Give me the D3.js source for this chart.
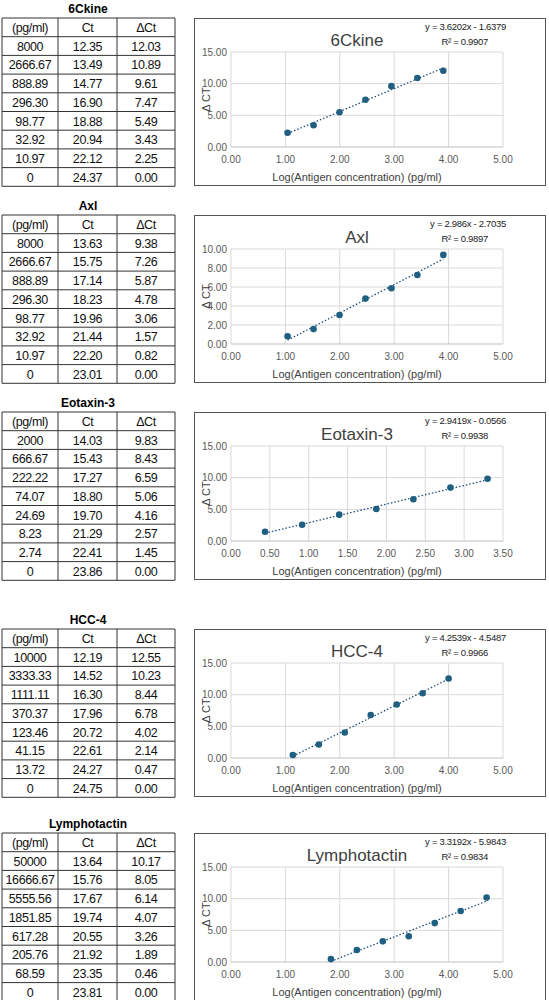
<!DOCTYPE html>
<html><head><meta charset="utf-8">
<script src="https://cdn.jsdelivr.net/npm/d3@7"></script>
<style>body{margin:0;background:#fff;font-family:"Liberation Sans",Arial,sans-serif}</style>
</head><body><svg width="549" height="1000"></svg>
<script>
// data per analyte
const names = ["6Ckine", "Axl", "Eotaxin-3", "HCC-4", "Lymphotactin"];
const conc = [
  ["8000","2666.67","888.89","296.30","98.77","32.92","10.97","0"],
  ["8000","2666.67","888.89","296.30","98.77","32.92","10.97","0"],
  ["2000","666.67","222.22","74.07","24.69","8.23","2.74","0"],
  ["10000","3333.33","1111.11","370.37","123.46","41.15","13.72","0"],
  ["50000","16666.67","5555.56","1851.85","617.28","205.76","68.59","0"]
];
const ct = [
  ["12.35","13.49","14.77","16.90","18.88","20.94","22.12","24.37"],
  ["13.63","15.75","17.14","18.23","19.96","21.44","22.20","23.01"],
  ["14.03","15.43","17.27","18.80","19.70","21.29","22.41","23.86"],
  ["12.19","14.52","16.30","17.96","20.72","22.61","24.27","24.75"],
  ["13.64","15.76","17.67","19.74","20.55","21.92","23.35","23.81"]
];
const dct = [
  ["12.03","10.89","9.61","7.47","5.49","3.43","2.25","0.00"],
  ["9.38","7.26","5.87","4.78","3.06","1.57","0.82","0.00"],
  ["9.83","8.43","6.59","5.06","4.16","2.57","1.45","0.00"],
  ["12.55","10.23","8.44","6.78","4.02","2.14","0.47","0.00"],
  ["10.17","8.05","6.14","4.07","3.26","1.89","0.46","0.00"]
];
const slope = [3.6202, 2.986, 2.9419, 4.2539, 3.3192];
const icpt = [-1.6379, -2.7035, -0.0566, -4.5487, -5.9843];
const eqText = ["y = 3.6202x - 1.6379","y = 2.986x - 2.7035","y = 2.9419x - 0.0566","y = 4.2539x - 4.5487","y = 3.3192x - 5.9843"];
const r2Text = ["R² = 0.9907","R² = 0.9897","R² = 0.9938","R² = 0.9966","R² = 0.9834"];
const xMax = [5, 5, 3.5, 5, 5];
const xStep = [1, 1, 0.5, 1, 1];
const yMax = [15, 10, 15, 15, 15];
const yStep = [5, 2, 5, 5, 5];
const tops = [18, 215, 412, 629, 833];

const svg = d3.select("svg");
const rowH = 18.7, colX = [2, 58, 117, 175];

names.forEach((name, i) => {
  const top = tops[i];
  const g = svg.append("g");
  g.append("text").attr("x", 88).attr("y", top - 5).attr("text-anchor", "middle")
    .attr("font-size", 12).attr("font-weight", "bold").text(name);
  const rows = [["(pg/ml)", "Ct", "ΔCt"]].concat(conc[i].map((c, k) => [c, ct[i][k], dct[i][k]]));
  rows.forEach((r, k) => {
    r.forEach((v, c) => {
      g.append("text").attr("x", (colX[c] + colX[c + 1]) / 2).attr("y", top + k * rowH + 14)
        .attr("text-anchor", "middle").attr("font-size", 12.5).attr("letter-spacing", -0.4)
        .attr("fill", "#111").text(v);
    });
  });
  for (let k = 0; k <= rows.length; k++)
    g.append("line").attr("x1", colX[0]).attr("x2", colX[3]).attr("y1", top + k * rowH).attr("y2", top + k * rowH).attr("stroke", "#333");
  colX.forEach(x => g.append("line").attr("x1", x).attr("x2", x).attr("y1", top).attr("y2", top + rows.length * rowH).attr("stroke", "#333"));

  // chart box
  g.append("rect").attr("x", 194.5).attr("y", top + 0.5).attr("width", 351).attr("height", 167)
    .attr("fill", "#fff").attr("stroke", "#555");
  const x = d3.scaleLinear().domain([0, xMax[i]]).range([231, 503]);
  const y = d3.scaleLinear().domain([0, yMax[i]]).range([top + 129, top + 34]);
  const xt = d3.range(0, xMax[i] + 1e-9, xStep[i]);
  const yt = d3.range(0, yMax[i] + 1e-9, yStep[i]);
  g.selectAll(null).data(xt).join("line").attr("x1", d => x(d)).attr("x2", d => x(d))
    .attr("y1", y(yMax[i])).attr("y2", y(0)).attr("stroke", "#d9d9d9");
  g.selectAll(null).data(yt).join("line").attr("x1", x(0)).attr("x2", x(xMax[i]))
    .attr("y1", d => y(d)).attr("y2", d => y(d)).attr("stroke", d => d === 0 ? "#bfbfbf" : "#d9d9d9");
  g.selectAll(null).data(xt).join("text").attr("x", d => x(d)).attr("y", y(0) + 16)
    .attr("text-anchor", "middle").attr("font-size", 10).attr("fill", "#595959").text(d => d.toFixed(2));
  g.selectAll(null).data(yt).join("text").attr("x", x(0) - 4).attr("y", d => y(d) + 3.5)
    .attr("text-anchor", "end").attr("font-size", 10).attr("fill", "#595959").text(d => d.toFixed(2));
  g.append("text").attr("x", 357).attr("y", top + 163).attr("text-anchor", "middle")
    .attr("font-size", 11).attr("fill", "#404040").text("Log(Antigen concentration) (pg/ml)");
  g.append("text").attr("transform", `translate(210,${(y(0) + y(yMax[i])) / 2}) rotate(-90)`)
    .attr("text-anchor", "middle").attr("font-size", 11).attr("fill", "#404040").text("Δ CT");
  g.append("text").attr("x", 357).attr("y", top + 28).attr("text-anchor", "middle")
    .attr("font-size", 17).attr("fill", "#404040").text(name);
  g.append("text").attr("x", 506).attr("y", top + 12).attr("text-anchor", "end")
    .attr("font-size", 9.5).attr("letter-spacing", -0.3).attr("fill", "#222").text(eqText[i]);
  g.append("text").attr("x", 488).attr("y", top + 27).attr("text-anchor", "end")
    .attr("font-size", 9.5).attr("letter-spacing", -0.3).attr("fill", "#222").text(r2Text[i]);

  const pts = conc[i].slice(0, 7).map((c, k) => [Math.log10(+c), +dct[i][k]]);
  const ex = d3.extent(pts, d => d[0]);
  g.append("line").attr("x1", x(ex[0])).attr("x2", x(ex[1]))
    .attr("y1", y(slope[i] * ex[0] + icpt[i])).attr("y2", y(slope[i] * ex[1] + icpt[i]))
    .attr("stroke", "#1f4e79").attr("stroke-width", 1.3).attr("stroke-dasharray", "1.5,2");
  g.selectAll(null).data(pts).join("circle").attr("cx", d => x(d[0])).attr("cy", d => y(d[1]))
    .attr("r", 3.3).attr("fill", "#1f5f82");
});
</script></body></html>
